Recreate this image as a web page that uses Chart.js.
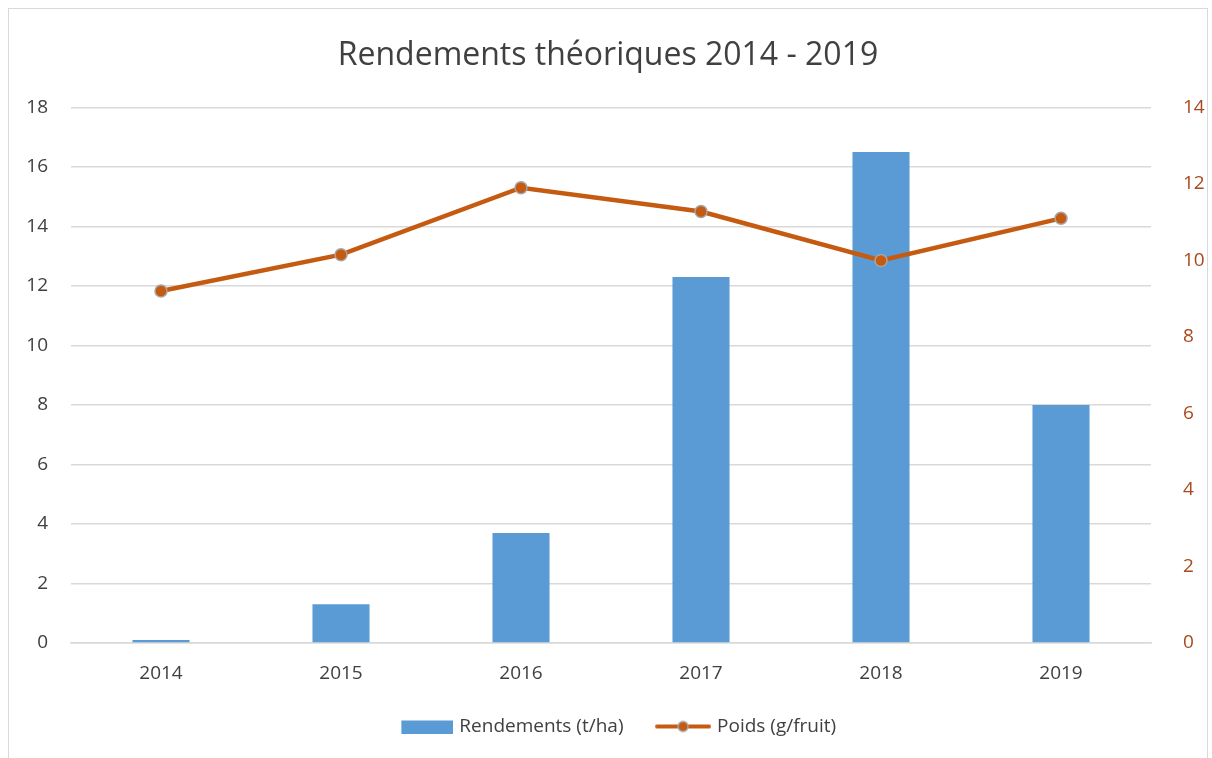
<!DOCTYPE html>
<html>
<head>
<meta charset="utf-8">
<script src="https://cdn.jsdelivr.net/npm/chart.js@4/dist/chart.umd.min.js"></script>
<style>
  html, body { margin: 0; padding: 0; background: #fff; }
  #wrap { position: absolute; left: 8px; top: 8px; width: 1200px; height: 750px; border: 1px solid #d9d9d9; border-bottom: none; box-sizing: border-box; }
  canvas { display: block; }
</style>
</head>
<body>
<div id="wrap"><canvas id="chart"></canvas></div>
<script>
const years = ["2014", "2015", "2016", "2017", "2018", "2019"];
const rendements = [0.1, 1.3, 3.7, 12.3, 16.5, 8.0];
const poids = [9.2, 10.15, 11.9, 11.28, 10.0, 11.1];
const leftTicks = [0, 2, 4, 6, 8, 10, 12, 14, 16, 18];
const rightTicks = [0, 2, 4, 6, 8, 10, 12, 14];

const BLUE = "#5B9BD5";
const ORANGE = "#C55A11";
const FONT = "'Open Sans', sans-serif";

// legend swatch: transparent on the left, 52px of content on the right
function swatch(kind) {
  const c = document.createElement("canvas");
  c.width = 77; c.height = 14;
  const g = c.getContext("2d");
  if (kind === "bar") {
    g.fillStyle = BLUE;
    g.fillRect(25, 1, 52, 13);
  } else {
    g.strokeStyle = ORANGE;
    g.lineWidth = 4;
    g.lineCap = "round";
    g.beginPath(); g.moveTo(23, 7); g.lineTo(75, 7); g.stroke();
    g.fillStyle = ORANGE;
    g.strokeStyle = "#A5A5A5";
    g.lineWidth = 1.5;
    g.beginPath(); g.arc(49, 7, 5, 0, Math.PI * 2); g.fill(); g.stroke();
  }
  return c;
}

const ctx = document.getElementById("chart").getContext("2d");
new Chart(ctx, {
  type: "bar",
  data: {
    labels: years,
    datasets: [
      {
        type: "line",
        label: "Poids (g/fruit)",
        data: poids,
        yAxisID: "y2",
        borderColor: ORANGE,
        backgroundColor: ORANGE,
        borderWidth: 4.5,
        tension: 0,
        pointRadius: 6,
        pointBackgroundColor: ORANGE,
        pointBorderColor: "#A5A5A5",
        pointBorderWidth: 1.5,
        order: 0
      },
      {
        label: "Rendements (t/ha)",
        data: rendements,
        yAxisID: "y",
        backgroundColor: BLUE,
        categoryPercentage: 1,
        barPercentage: 0.317,
        order: 1
      }
    ]
  },
  options: {
    responsive: true,
    maintainAspectRatio: false,
    animation: false,
    layout: { padding: { left: 0, right: 0, top: 0, bottom: 12 } },
    plugins: {
      title: {
        display: true,
        text: "Rendements théoriques 2014 - 2019",
        color: "#404040",
        font: { family: FONT, size: 32, weight: "normal" },
        padding: { top: 28, bottom: 32 }
      },
      legend: {
        position: "bottom",
        reverse: true,
        labels: {
          usePointStyle: true,
          pointStyleWidth: 70,
          boxHeight: 14,
          color: "#404040",
          font: { family: FONT, size: 19 },
          padding: 14,
          generateLabels: (chart) => chart.data.datasets.map((ds, i) => ({
            text: ds.label,
            pointStyle: swatch(ds.type === "line" ? "line" : "bar"),
            fontColor: "#404040",
            hidden: false,
            datasetIndex: i
          }))
        }
      },
      tooltip: { enabled: false }
    },
    scales: {
      x: {
        grid: { display: false },
        border: { color: "#d9d9d9", width: 1.5 },
        ticks: { color: "#404040", font: { family: FONT, size: 19 }, padding: 11 },
        afterFit: (axis) => { axis.height = 60; }
      },
      y: {
        position: "left",
        min: 0, max: 18,
        afterBuildTicks: (axis) => { axis.ticks = leftTicks.map(v => ({ value: v })); },
        afterFit: (axis) => { axis.width = 62; },
        grid: { color: "#d9d9d9", lineWidth: 1.5, drawTicks: false },
        border: { display: false },
        ticks: { color: "#404040", font: { family: FONT, size: 19 }, padding: 23 }
      },
      y2: {
        position: "right",
        min: 0, max: 14,
        afterBuildTicks: (axis) => { axis.ticks = rightTicks.map(v => ({ value: v })); },
        afterFit: (axis) => { axis.width = 56; },
        grid: { display: false },
        border: { display: false },
        ticks: { color: "#A9481C", font: { family: FONT, size: 19 }, padding: 24 }
      }
    }
  }
});
</script>
</body>
</html>
